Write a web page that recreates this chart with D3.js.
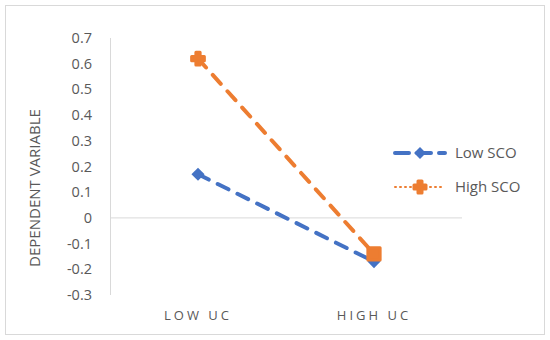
<!DOCTYPE html>
<html>
<head>
<meta charset="utf-8">
<script src="https://cdn.jsdelivr.net/npm/d3@7"></script>
<style>
  body { margin: 0; background: #fff; }
  svg text { font-family: "Open Sans", "DejaVu Sans", sans-serif; fill: #595959; }
</style>
</head>
<body>
<svg width="550" height="340"></svg>
<script>
const categories = ["LOW UC", "HIGH UC"];
const lowSCO = [0.17, -0.17];
const highSCO = [0.62, -0.14];
const yTicks = [0.7, 0.6, 0.5, 0.4, 0.3, 0.2, 0.1, 0, -0.1, -0.2, -0.3];
const seriesNames = ["Low SCO", "High SCO"];

const svg = d3.select("svg");
const blue = "#4472C4", orange = "#ED7D31";

// chart border
svg.append("rect")
   .attr("x", 5.5).attr("y", 5.5)
   .attr("width", 539).attr("height", 329)
   .attr("fill", "#fff")
   .attr("stroke", "#D9D9D9");

const xScale = d3.scaleBand().domain(categories).range([110, 462]);
const yScale = d3.scaleLinear().domain([-0.3, 0.7]).range([295, 38]);

// y axis line
svg.append("line")
   .attr("x1", 110.5).attr("x2", 110.5)
   .attr("y1", yScale(0.7)).attr("y2", yScale(-0.3))
   .attr("stroke", "#D9D9D9").attr("stroke-width", 1);

// zero line
svg.append("line")
   .attr("x1", 110).attr("x2", 462)
   .attr("y1", yScale(0)).attr("y2", yScale(0))
   .attr("stroke", "#D9D9D9").attr("stroke-width", 1);

// y tick labels
svg.selectAll(".ytick")
   .data(yTicks)
   .enter()
   .append("text")
   .attr("class", "ytick")
   .attr("x", 92)
   .attr("y", d => yScale(d))
   .attr("dy", "0.35em")
   .attr("text-anchor", "end")
   .style("font-size", "14.5px")
   .text(d => d === 0 ? "0" : d3.format(".1f")(d).replace("−", "-"));

// x category labels
svg.selectAll(".xtick")
   .data(categories)
   .enter()
   .append("text")
   .attr("class", "xtick")
   .attr("x", d => xScale(d) + xScale.bandwidth() / 2)
   .attr("y", 320)
   .attr("text-anchor", "middle")
   .style("font-size", "13px")
   .style("letter-spacing", "3px")
   .text(d => d);

// y title
svg.append("text")
   .attr("transform", "translate(40,188) rotate(-90)")
   .attr("text-anchor", "middle")
   .style("font-size", "15px")
   .text("DEPENDENT VARIABLE");

const line = d3.line()
   .x((d, i) => xScale(categories[i]) + xScale.bandwidth() / 2)
   .y(d => yScale(d));

svg.append("path")
   .datum(highSCO)
   .attr("d", line)
   .attr("fill", "none")
   .attr("stroke", orange)
   .attr("stroke-width", 4)
   .attr("stroke-linecap", "round")
   .attr("stroke-dasharray", "12 10");

svg.append("path")
   .datum(lowSCO)
   .attr("d", line)
   .attr("fill", "none")
   .attr("stroke", blue)
   .attr("stroke-width", 4)
   .attr("stroke-linecap", "round")
   .attr("stroke-dasharray", "12 10");

const cx = i => xScale(categories[i]) + xScale.bandwidth() / 2;

// low SCO markers (diamonds)
svg.selectAll(".lowpt")
   .data(lowSCO)
   .enter()
   .append("path")
   .attr("class", "lowpt")
   .attr("transform", (d, i) => "translate(" + cx(i) + "," + yScale(d) + ")")
   .attr("d", d3.symbol(d3.symbolDiamond2, 110))
   .attr("fill", blue);

// high SCO markers: star at low UC, square at high UC
svg.selectAll(".highpt")
   .data(highSCO)
   .enter()
   .append("path")
   .attr("class", "highpt")
   .attr("transform", (d, i) => "translate(" + cx(i) + "," + yScale(d) + ")")
   .attr("d", (d, i) => i === 0 ? d3.symbol(d3.symbolCross, 90)() : d3.symbol(d3.symbolSquare, 150)())
   .attr("fill", orange)
   .attr("stroke", orange)
   .attr("stroke-width", 3)
   .attr("stroke-linejoin", "round");

// legend
const legend = svg.append("g").attr("transform", "translate(395,0)");
const legendY = [153, 187];
seriesNames.forEach((name, i) => {
  const color = i === 0 ? blue : orange;
  legend.append("line")
     .attr("x1", 0).attr("x2", 50)
     .attr("y1", legendY[i]).attr("y2", legendY[i])
     .attr("stroke", color)
     .attr("stroke-width", i === 0 ? 4 : 2)
     .attr("stroke-linecap", "round")
     .attr("stroke-dasharray", i === 0 ? "14 8" : "1 4");
  legend.append("path")
     .attr("transform", "translate(25," + legendY[i] + ")")
     .attr("d", i === 0 ? d3.symbol(d3.symbolDiamond2, 90)() : d3.symbol(d3.symbolCross, 80)())
     .attr("fill", color)
     .attr("stroke", color)
     .attr("stroke-width", i === 0 ? 0 : 3)
     .attr("stroke-linejoin", "round");
  legend.append("text")
     .attr("x", 60)
     .attr("y", legendY[i])
     .attr("dy", "0.35em")
     .style("font-size", "15px")
     .text(name);
});
</script>
</body>
</html>
